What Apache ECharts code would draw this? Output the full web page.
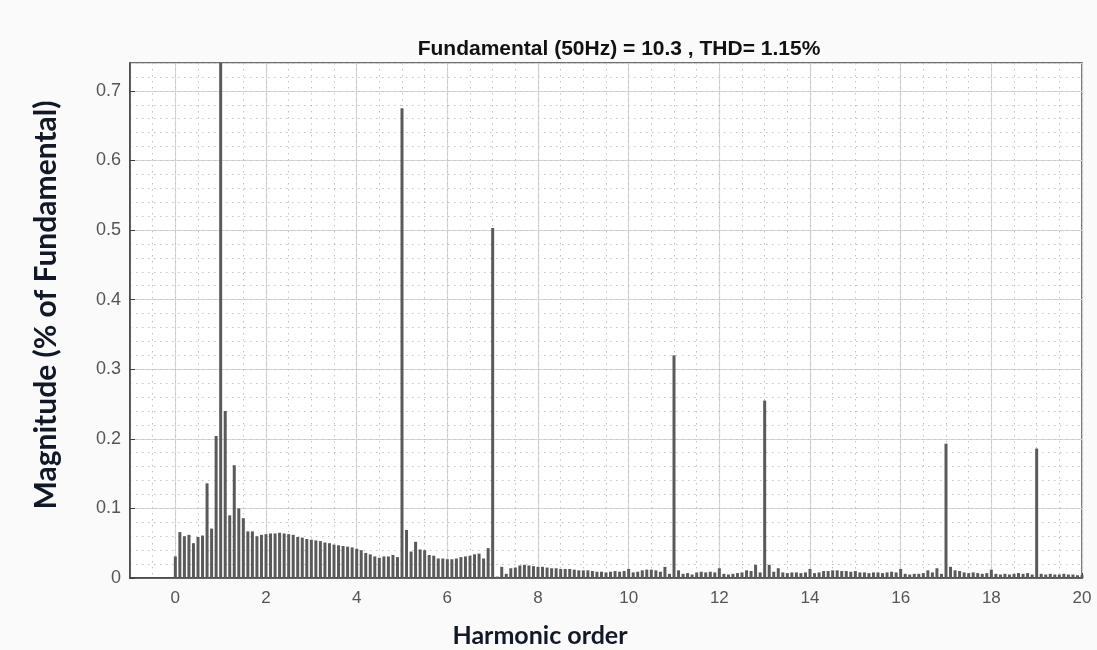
<!DOCTYPE html>
<html>
<head>
<meta charset="utf-8">
<script src="https://cdn.jsdelivr.net/npm/echarts@6/dist/echarts.min.js"></script>
<style>
html,body{margin:0;padding:0;background:#fafafa;}
#chart{width:1097px;height:650px;}
</style>
</head>
<body>
<div id="chart"></div>
<script>
// Harmonic order bins (5 Hz resolution => 0.1 harmonic order)
const harmonicOrders = [
  0.0,0.1,0.2,0.3,0.4,0.5,0.6,0.7,0.8,0.9,
  1.0,1.1,1.2,1.3,1.4,1.5,1.6,1.7,1.8,1.9,
  2.0,2.1,2.2,2.3,2.4,2.5,2.6,2.7,2.8,2.9,
  3.0,3.1,3.2,3.3,3.4,3.5,3.6,3.7,3.8,3.9,
  4.0,4.1,4.2,4.3,4.4,4.5,4.6,4.7,4.8,4.9,
  5.0,5.1,5.2,5.3,5.4,5.5,5.6,5.7,5.8,5.9,
  6.0,6.1,6.2,6.3,6.4,6.5,6.6,6.7,6.8,6.9,
  7.0,7.1,7.2,7.3,7.4,7.5,7.6,7.7,7.8,7.9,
  8.0,8.1,8.2,8.3,8.4,8.5,8.6,8.7,8.8,8.9,
  9.0,9.1,9.2,9.3,9.4,9.5,9.6,9.7,9.8,9.9,
  10.0,10.1,10.2,10.3,10.4,10.5,10.6,10.7,10.8,10.9,
  11.0,11.1,11.2,11.3,11.4,11.5,11.6,11.7,11.8,11.9,
  12.0,12.1,12.2,12.3,12.4,12.5,12.6,12.7,12.8,12.9,
  13.0,13.1,13.2,13.3,13.4,13.5,13.6,13.7,13.8,13.9,
  14.0,14.1,14.2,14.3,14.4,14.5,14.6,14.7,14.8,14.9,
  15.0,15.1,15.2,15.3,15.4,15.5,15.6,15.7,15.8,15.9,
  16.0,16.1,16.2,16.3,16.4,16.5,16.6,16.7,16.8,16.9,
  17.0,17.1,17.2,17.3,17.4,17.5,17.6,17.7,17.8,17.9,
  18.0,18.1,18.2,18.3,18.4,18.5,18.6,18.7,18.8,18.9,
  19.0,19.1,19.2,19.3,19.4,19.5,19.6,19.7,19.8,19.9,
  20.0
];
// Magnitude (% of fundamental); fundamental = 100 (clipped by the axis)
const magnitudes = [
  0.031,0.066,0.060,0.062,0.050,0.059,0.061,0.136,0.071,0.204,
  100,0.240,0.090,0.162,0.100,0.086,0.067,0.067,0.060,0.062,
  0.063,0.064,0.064,0.065,0.064,0.063,0.062,0.059,0.058,0.056,
  0.055,0.054,0.053,0.051,0.050,0.048,0.047,0.046,0.045,0.044,
  0.042,0.040,0.036,0.034,0.031,0.029,0.031,0.031,0.033,0.030,
  0.675,0.069,0.038,0.052,0.041,0.040,0.033,0.032,0.028,0.028,
  0.027,0.027,0.028,0.030,0.031,0.032,0.034,0.035,0.028,0.043,
  0.503,0.002,0.016,0.006,0.014,0.015,0.018,0.019,0.018,0.017,
  0.016,0.016,0.015,0.014,0.014,0.013,0.013,0.013,0.012,0.011,
  0.011,0.011,0.010,0.009,0.009,0.008,0.009,0.010,0.009,0.010,
  0.013,0.008,0.009,0.011,0.012,0.012,0.011,0.009,0.016,0.006,
  0.320,0.011,0.006,0.007,0.005,0.008,0.009,0.008,0.009,0.008,
  0.014,0.006,0.005,0.006,0.007,0.008,0.011,0.010,0.019,0.008,
  0.255,0.019,0.009,0.014,0.008,0.007,0.008,0.008,0.007,0.008,
  0.013,0.007,0.008,0.010,0.010,0.011,0.011,0.010,0.010,0.009,
  0.010,0.008,0.008,0.007,0.008,0.008,0.007,0.008,0.009,0.008,
  0.013,0.006,0.005,0.006,0.006,0.007,0.011,0.008,0.014,0.006,
  0.193,0.016,0.011,0.010,0.008,0.007,0.008,0.007,0.006,0.007,
  0.012,0.006,0.005,0.006,0.005,0.006,0.007,0.006,0.007,0.005,
  0.186,0.006,0.005,0.006,0.005,0.005,0.006,0.005,0.005,0.004,
  0.004
];
const titleText = 'Fundamental (50Hz) = 10.3 , THD= 1.15%';
const xName = 'Harmonic order';
const yName = 'Magnitude (% of Fundamental)';

const seriesData = harmonicOrders.map((x, i) => [x, magnitudes[i]]);

const chart = echarts.init(document.getElementById('chart'), null, {renderer: 'canvas'});
const labelFont = "'Liberation Sans', Arial, sans-serif";
chart.setOption({
  backgroundColor: '#fafafa',
  animation: false,
  title: {
    text: titleText,
    left: 614, top: 34, textAlign: 'center',
    textStyle: {fontFamily: labelFont, fontWeight: 'bold', fontSize: 21, color: '#111'}
  },
  grid: {
    left: 130, right: 15, top: 63, bottom: 72,
    show: true, backgroundColor: '#ffffff', borderColor: '#404040', borderWidth: 1.5
  },
  xAxis: [{
    type: 'value', min: -1, max: 20, splitNumber: 10,
    axisLine: {show: true, onZero: false, lineStyle: {color: '#404040', width: 1.5}},
    axisTick: {show: true, inside: true, length: 5, lineStyle: {color: '#404040'}},
    axisLabel: {showMinLabel: false, color: '#555', fontSize: 17, margin: 12, fontFamily: labelFont},
    splitLine: {show: true, lineStyle: {color: '#d6d6d6', width: 1.2}}
  }, {
    type: 'value', min: -1, max: 20, interval: 0.5, position: 'top',
    axisLine: {show: false}, axisTick: {show: false}, axisLabel: {show: false},
    splitLine: {show: true, lineStyle: {color: '#c2c2c2', width: 1, type: [1.5, 4.5]}}
  }],
  yAxis: [{
    type: 'value', min: 0, max: 0.74, interval: 0.1,
    axisLine: {show: true, onZero: false, lineStyle: {color: '#404040', width: 1.5}},
    axisTick: {show: true, inside: true, length: 5, lineStyle: {color: '#404040'}},
    axisLabel: {showMaxLabel: false, color: '#555', fontSize: 18, margin: 9, fontFamily: labelFont},
    splitLine: {show: true, lineStyle: {color: '#d6d6d6', width: 1.2}}
  }, {
    type: 'value', min: 0, max: 0.74, interval: 0.02, position: 'right',
    axisLine: {show: false}, axisTick: {show: false}, axisLabel: {show: false},
    splitLine: {show: true, lineStyle: {color: '#c2c2c2', width: 1, type: [1.5, 4.5]}}
  }],
  graphic: [{
    type: 'text', x: 46, y: 305, rotation: Math.PI / 2,
    style: {text: yName, font: "bold 30px Lato, 'Open Sans', sans-serif", fill: '#111827', textAlign: 'center', textVerticalAlign: 'middle'}
  }, {
    type: 'text', x: 540, y: 636,
    style: {text: xName, font: "bold 25px Lato, 'Open Sans', sans-serif", fill: '#111827', textAlign: 'center', textVerticalAlign: 'middle'}
  }],
  series: [{
    type: 'bar', xAxisIndex: 0, yAxisIndex: 0,
    data: seriesData, barWidth: 3, clip: true,
    itemStyle: {color: '#5a5a5a'}
  }]
});
</script>
</body>
</html>
